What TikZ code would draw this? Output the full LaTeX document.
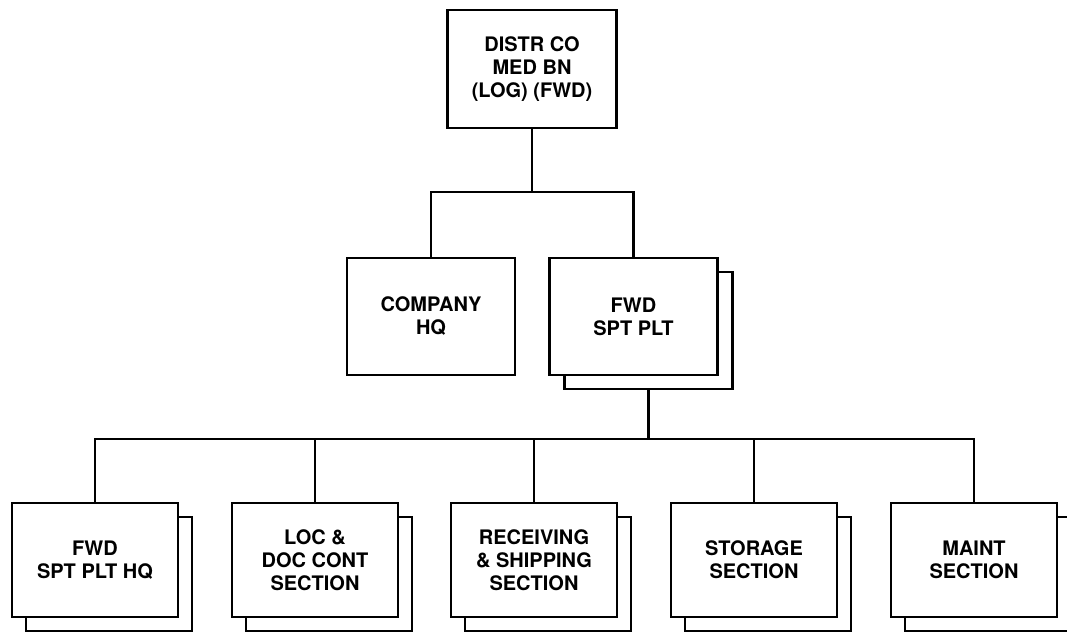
\documentclass[tikz,border=0pt]{standalone}
\usepackage{fontspec}
\setmainfont{TeX Gyre Heros}
\begin{document}
\begin{tikzpicture}[x=1pt,y=-1pt,
  line width=2.8pt,
  unit/.style={draw=black, fill=white, line width=2.8pt, align=center, inner sep=0pt,
    font=\fontsize{20}{23}\selectfont\bfseries},
  topbox/.style={unit, minimum width=169pt, minimum height=118pt},
  midbox/.style={unit, minimum width=168pt, minimum height=117pt},
  lowbox/.style={unit, minimum width=166pt, minimum height=114pt},
  link/.style={draw=black, line width=2.8pt}]
\useasboundingbox (0,0) rectangle (1067,633);
\clip (0,0) rectangle (1067,633);

% top
\node[topbox] (top) at (532,69) {DISTR CO\\MED BN\\(LOG) (FWD)};

% middle
\node[midbox] (chq) at (431,316.5) {COMPANY\\HQ};
\node[midbox] (fwdS) at (648.5,330.5) {};
\node[midbox] (fwd) at (633.5,316.5) {FWD\\SPT PLT};

% bottom shadows
\node[lowbox] (b1S) at (109,574) {};
\node[lowbox] (b2S) at (329,574) {};
\node[lowbox] (b3S) at (548,574) {};
\node[lowbox] (b4S) at (768,574) {};
\node[lowbox] (b5S) at (988,574) {};
% bottom boxes
\node[lowbox] (b1) at (95,560) {FWD\\SPT PLT HQ};
\node[lowbox] (b2) at (315,560) {LOC \&\\DOC CONT\\SECTION};
\node[lowbox] (b3) at (534,560) {RECEIVING\\\& SHIPPING\\SECTION};
\node[lowbox] (b4) at (754,560) {STORAGE\\SECTION};
\node[lowbox] (b5) at (974,560) {MAINT\\SECTION};

% connectors
\coordinate (j1) at (532,192);
\coordinate (j2) at (648.5,439);
\draw[link] (top.south) -- (j1);
\draw[link] (chq.north) |- (j1) -| (fwd.north);
\draw[link] (fwdS.south) -- (j2);
\draw[link] (b1.north) |- (j2) -| (b5.north);
\draw[link] (b2.north) -- (b2.north |- j2);
\draw[link] (b3.north) -- (b3.north |- j2);
\draw[link] (b4.north) -- (b4.north |- j2);
\end{tikzpicture}
\end{document}
